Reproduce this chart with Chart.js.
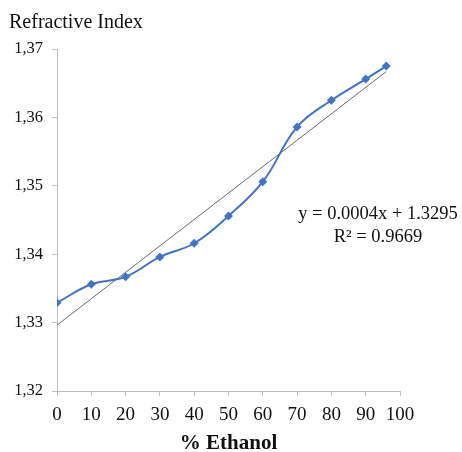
<!DOCTYPE html>
<html>
<head>
<meta charset="utf-8">
<script src="https://cdn.jsdelivr.net/npm/chart.js@4.4.1/dist/chart.umd.min.js"></script>
<style>
  body { margin: 0; background: #fff; }
  #wrap { position: relative; width: 462px; height: 452px; }
</style>
</head>
<body>
<div id="wrap"><canvas id="chart"></canvas></div>
<script>
// % ethanol vs refractive index
const ethanol = [0, 10, 20, 30, 40, 50, 60, 70, 80, 90, 96];
const refractive = [1.3329, 1.3356, 1.3367, 1.3396, 1.3416, 1.3456, 1.3506, 1.3586, 1.3625, 1.3656, 1.3675];
const yTicks = [1.32, 1.33, 1.34, 1.35, 1.36, 1.37];
const chartTitle = 'Refractive Index';
const xTitle = '% Ethanol';
const eqLines = ['y = 0.0004x + 1.3295', 'R\u00b2 = 0.9669'];

const SERIF = "'Liberation Serif', 'Times New Roman', serif";
const BLUE = '#4472C4';
const AXIS = '#bfbfbf';

// least squares trend line, drawn over the data range
function linearFit(xs, ys) {
    const n = xs.length;
    const mx = xs.reduce((a, b) => a + b, 0) / n;
    const my = ys.reduce((a, b) => a + b, 0) / n;
    let sxy = 0, sxx = 0;
    for (let i = 0; i < n; i++) {
        sxy += (xs[i] - mx) * (ys[i] - my);
        sxx += (xs[i] - mx) * (xs[i] - mx);
    }
    const slope = sxy / sxx;
    return { slope: slope, intercept: my - slope * mx };
}
const fit = linearFit(ethanol, refractive);
const xFirst = ethanol[0];
const xLast = ethanol[ethanol.length - 1];

const points = ethanol.map((x, i) => ({ x: x, y: refractive[i] }));
const trend = [
    { x: xFirst, y: fit.intercept + fit.slope * xFirst },
    { x: xLast, y: fit.intercept + fit.slope * xLast }
];

const textPlugin = {
    id: 'texts',
    afterDraw(chart) {
        const ctx = chart.ctx;
        ctx.save();
        ctx.fillStyle = '#111';
        ctx.textBaseline = 'alphabetic';
        ctx.font = '20px ' + SERIF;
        ctx.textAlign = 'left';
        ctx.fillText(chartTitle, 9, 28);

        ctx.font = '18.5px ' + SERIF;
        ctx.textAlign = 'center';
        ctx.fillText(eqLines[0], 378, 219);
        ctx.fillText(eqLines[1], 378, 242);
        ctx.restore();
    }
};

new Chart(document.getElementById('chart'), {
    type: 'line',
    data: {
        datasets: [{
            label: 'Refractive Index',
            data: points,
            borderColor: BLUE,
            backgroundColor: BLUE,
            borderWidth: 2,
            tension: 0.4,
            pointStyle: 'rectRot',
            pointRadius: 4.5,
            pointBorderWidth: 0,
            pointBackgroundColor: BLUE
        }, {
            label: 'Linear',
            data: trend,
            borderColor: '#6b6b6b',
            borderWidth: 1,
            pointRadius: 0,
            tension: 0
        }]
    },
    options: {
        responsive: true,
        maintainAspectRatio: false,
        animation: false,
        layout: { padding: { left: 0, right: 62, top: 49, bottom: 0 } },
        plugins: {
            legend: { display: false },
            tooltip: { enabled: false }
        },
        scales: {
            x: {
                type: 'linear',
                min: 0,
                max: 100,
                afterFit(scale) { scale.height = 61; },
                ticks: {
                    stepSize: 10,
                    padding: 8,
                    maxRotation: 0,
                    minRotation: 0,
                    autoSkip: false,
                    color: '#111',
                    font: { family: SERIF, size: 19 }
                },
                grid: {
                    drawOnChartArea: false,
                    drawTicks: true,
                    tickLength: 5,
                    color: AXIS
                },
                border: { color: AXIS, width: 1 },
                title: {
                    display: true,
                    text: xTitle,
                    color: '#111',
                    padding: { top: 0, bottom: -4 },
                    font: { family: SERIF, size: 21, weight: 'bold' }
                }
            },
            y: {
                min: yTicks[0],
                max: yTicks[yTicks.length - 1],
                afterFit(scale) { scale.width = 57; },
                afterBuildTicks(scale) {
                    scale.ticks = yTicks.map(v => ({ value: v }));
                },
                ticks: {
                    padding: 9,
                    color: '#111',
                    font: { family: SERIF, size: 16.5 },
                    callback: v => Number(v).toFixed(2).replace('.', ',')
                },
                grid: {
                    drawOnChartArea: false,
                    drawTicks: true,
                    tickLength: 5,
                    color: AXIS
                },
                border: { color: AXIS, width: 1 }
            }
        }
    },
    plugins: [textPlugin]
});
</script>
</body>
</html>
